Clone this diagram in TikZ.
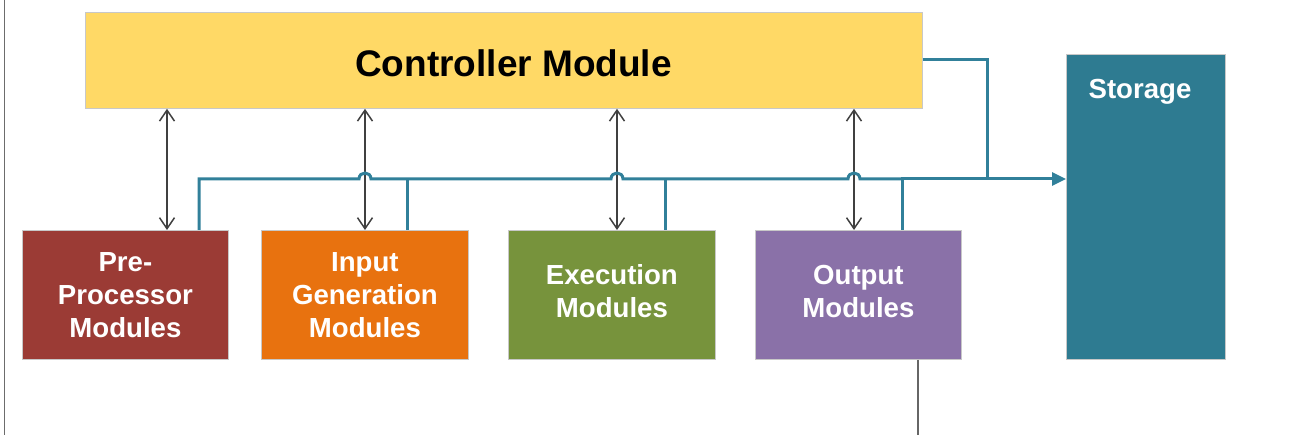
\documentclass[tikz,border=0pt]{standalone}
\usepackage{fontspec}
\setmainfont{Liberation Sans}
\usetikzlibrary{arrows.meta,calc}
\definecolor{ctrlyellow}{HTML}{FFD966}
\definecolor{prered}{HTML}{9B3B35}
\definecolor{inorange}{HTML}{E8720F}
\definecolor{execgreen}{HTML}{77933C}
\definecolor{outpurple}{HTML}{8A71A8}
\definecolor{storeteal}{HTML}{2E7B91}
\definecolor{busteal}{HTML}{31809A}
\definecolor{linkgray}{HTML}{404040}
\definecolor{edgegray}{HTML}{C8C8C8}
\tikzset{
  block/.style={draw=edgegray, line width=0.8pt, inner sep=0pt, anchor=north west},
  modtext/.style={text=white, font=\bfseries\fontsize{27.6}{33}\selectfont, align=center, inner sep=0pt},
  barb/.tip={Straight Barb[length=11pt,width=15pt,line width=1.5pt]},
  ctrllink/.style={draw=linkgray, line width=1.5pt, {barb}-{barb}},
  bus/.style={draw=busteal, line width=3pt, line join=miter},
  rule/.style={draw=gray!85!black, line width=1.5pt}
}
\begin{document}
\begin{tikzpicture}[x=1pt,y=-1pt]
\useasboundingbox (0,0) rectangle (1301,435);

% frame rule on the left
\coordinate (ltop) at (4.7,0);
\coordinate (lbot) at (4.7,435);
\draw[rule] (ltop) -- (lbot);

% controller
\node[block, fill=ctrlyellow, minimum width=837pt, minimum height=96pt] (ctrl) at (85,12) {};
\node[anchor=base, inner sep=0pt, font=\bfseries\fontsize{37}{40}\selectfont] (ctrltext) at (513.5,77) {Controller Module};

% modules
\node[block, fill=prered, minimum width=206pt, minimum height=129pt] (pre) at (22,230) {};
\node[block, fill=inorange, minimum width=207pt, minimum height=129pt] (inp) at (261,230) {};
\node[block, fill=execgreen, minimum width=207pt, minimum height=129pt] (exe) at (508,230) {};
\node[block, fill=outpurple, minimum width=206pt, minimum height=129pt] (out) at (755,230) {};
\node[block, fill=storeteal, minimum width=159pt, minimum height=305pt] (store) at (1066,54) {};

\node[modtext] (pretext) at (pre.center) {Pre-\\Processor\\Modules};
\node[modtext] (inptext) at (inp.center) {Input\\Generation\\Modules};
\node[modtext, yshift=4pt] (exetext) at (exe.center) {Execution\\Modules};
\node[modtext, yshift=3.5pt] (outtext) at (out.center) {Output\\Modules};
\node[modtext, anchor=base] (storetext) at (1140,99) {Storage};

% controller <-> module links
\coordinate (a1) at (167,0);
\coordinate (a2) at (365,0);
\coordinate (a3) at (617,0);
\coordinate (a4) at (854,0);
\draw[ctrllink] (ctrl.south -| a1) -- (pre.north -| a1);
\draw[ctrllink] (ctrl.south -| a2) -- (inp.north -| a2);
\draw[ctrllink] (ctrl.south -| a3) -- (exe.north -| a3);
\draw[ctrllink] (ctrl.south -| a4) -- (out.north -| a4);

% data bus into storage, hopping over the links
\coordinate (b0) at (199,179);
\coordinate (d1) at (407,179);
\coordinate (d2) at (665,179);
\coordinate (d3) at (902,179);
\coordinate (c1) at (987,60);
\coordinate (c2) at (987,179);
\draw[bus] (b0 |- pre.north) -- (b0)
  -- (359,179) .. controls (359,171) and (371,171) .. (371,179)
  -- (611,179) .. controls (611,171) and (623,171) .. (623,179)
  -- (848,179) .. controls (848,171) and (860,171) .. (860,179)
  -- (d3);
\draw[bus] (d1 |- inp.north) -- (d1);
\draw[bus] (d2 |- exe.north) -- (d2);
\draw[bus] (d3 |- out.north) -- (d3) -- (c2);
\draw[bus, -{Triangle[length=14pt,width=13pt]}] (c2) -- (store.west |- c2);
\draw[bus] (ctrl.east |- c1) -- (c1) -- (c2);

% line leaving the output modules
\coordinate (o1) at (918,435);
\draw[rule, draw=gray!80!black] (out.south -| o1) -- (o1);
\end{tikzpicture}
\end{document}
